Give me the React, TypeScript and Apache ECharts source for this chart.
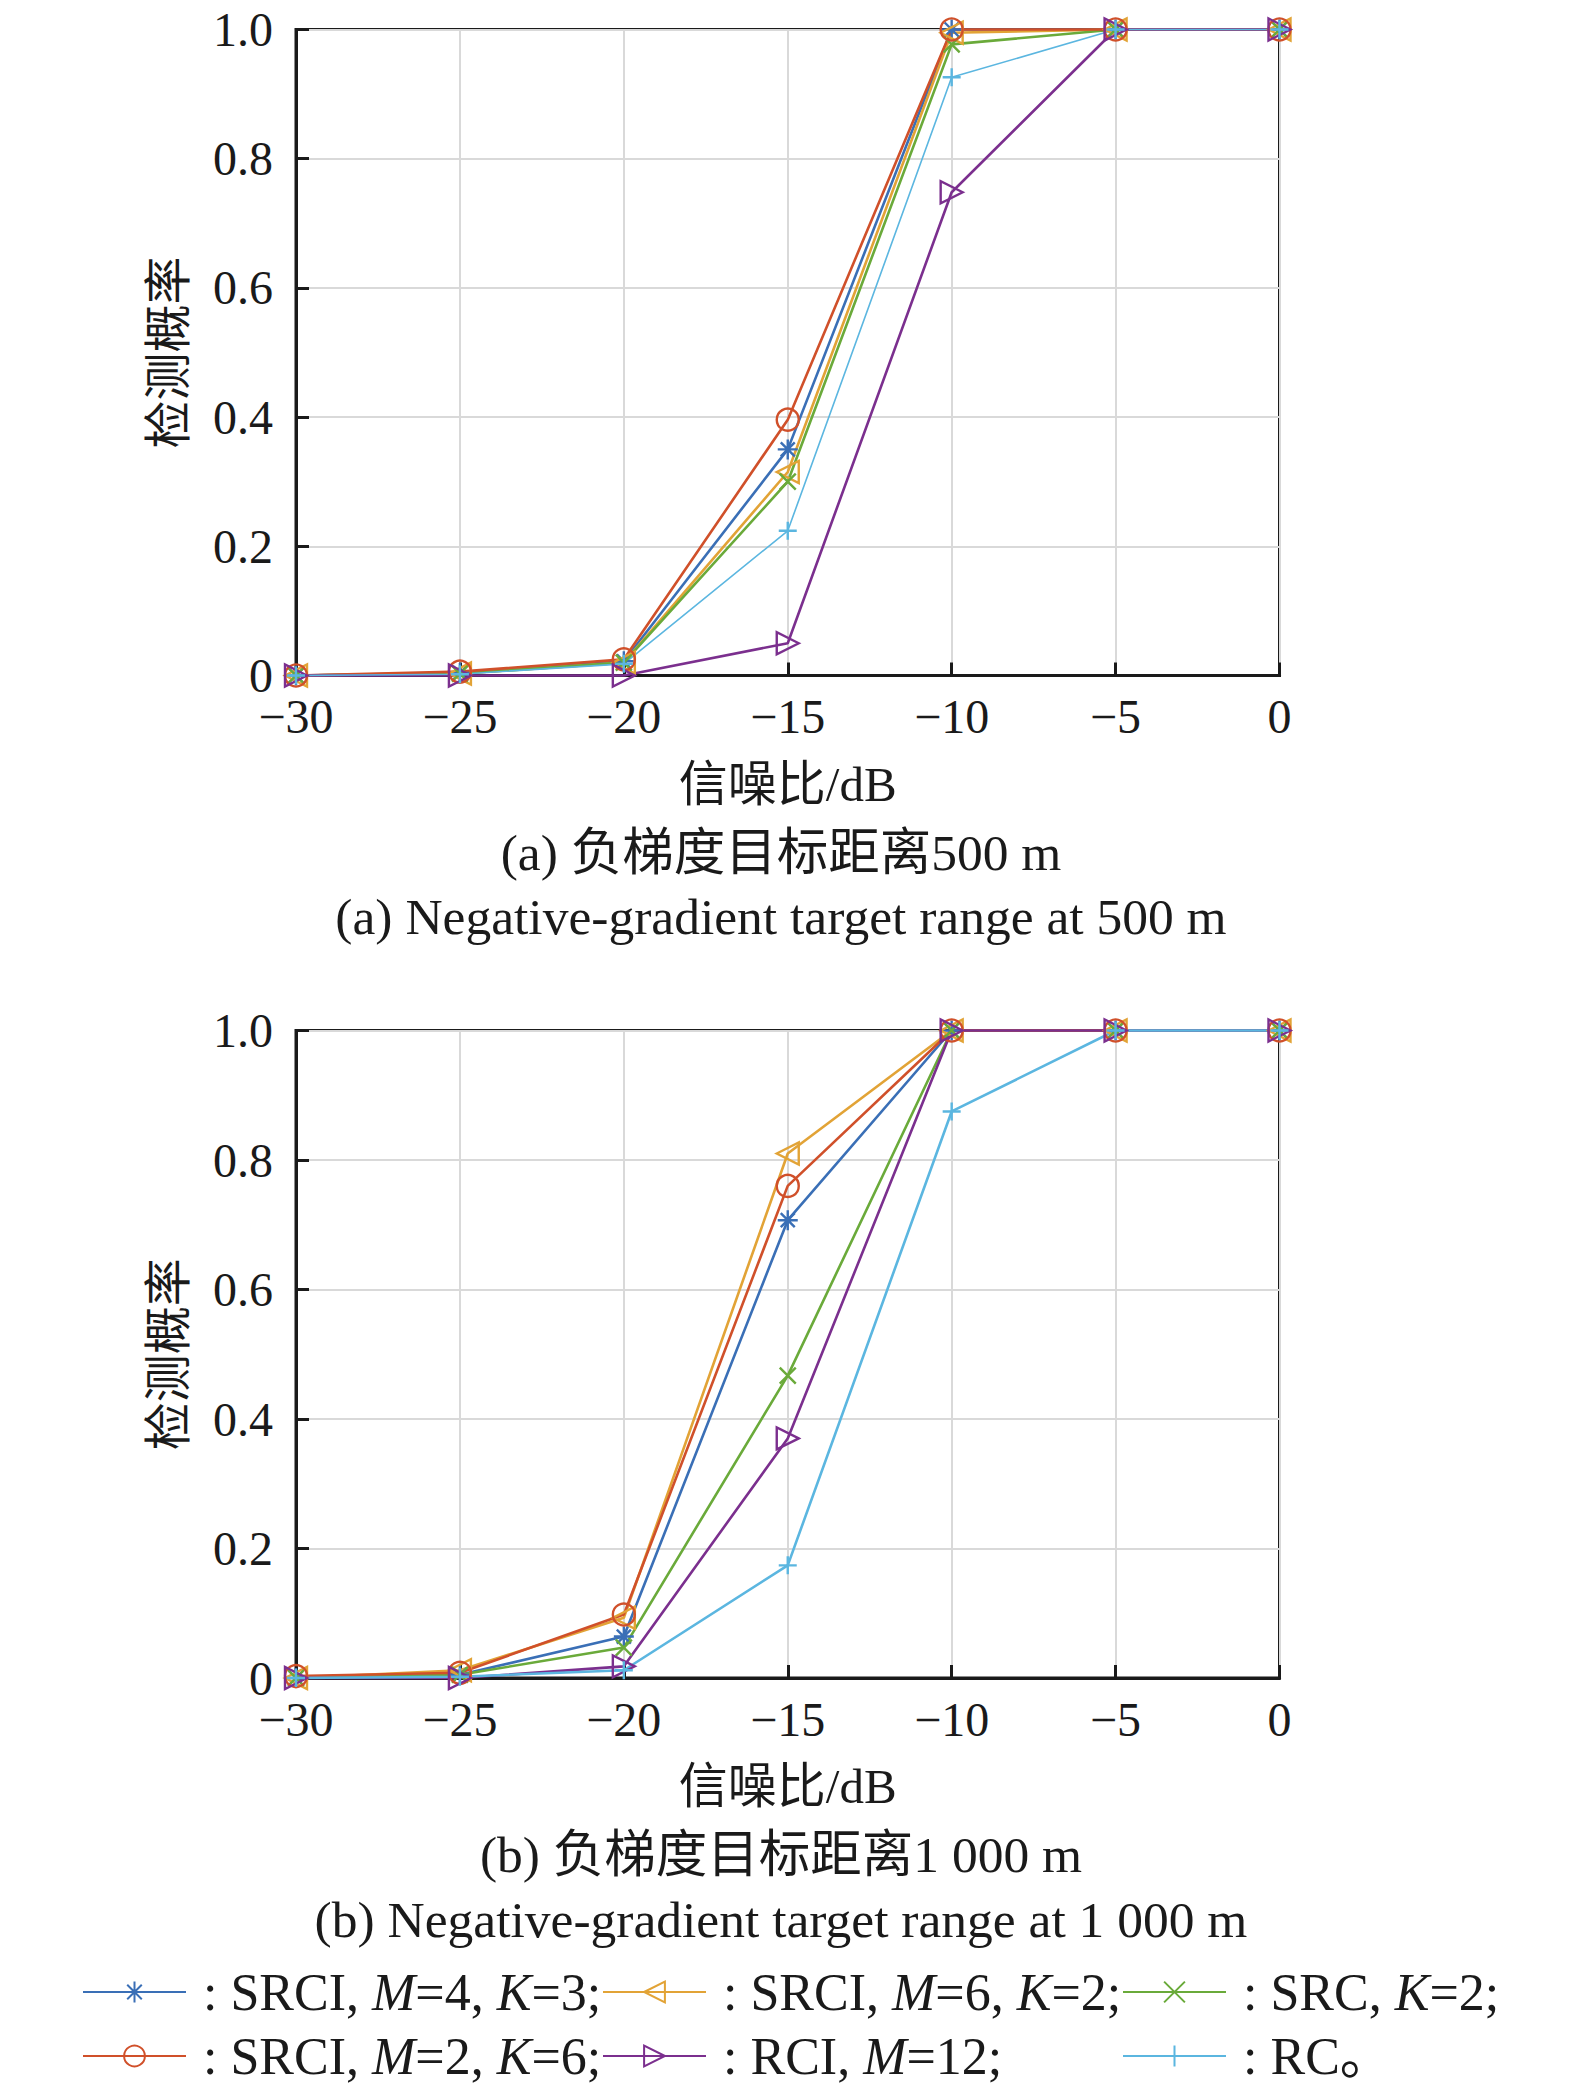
import React, { useEffect, useRef } from "react";
import * as echarts from "echarts";

// ---- data ----
const snr = [-30, -25, -20, -15, -10, -5, 0];
const xTickLabels = ["\u221230", "\u221225", "\u221220", "\u221215", "\u221210", "\u22125", "0"];
const yTickLabels = ["0", "0.2", "0.4", "0.6", "0.8", "1.0"];

const seriesNames = [
  "SRCI, M=4, K=3",
  "SRCI, M=6, K=2",
  "SRC, K=2",
  "SRCI, M=2, K=6",
  "RCI, M=12",
  "RC",
];
const legendTexts = [
  ": SRCI, {i|M}=4, {i|K}=3;",
  ": SRCI, {i|M}=6, {i|K}=2;",
  ": SRC, {i|K}=2;",
  ": SRCI, {i|M}=2, {i|K}=6;",
  ": RCI, {i|M}=12;",
  ": RC\u3002",
];

// (a) 500 m
const aSrciM4K3 = [0, 0.004, 0.022, 0.35, 1, 1, 1];
const aSrciM6K2 = [0, 0.003, 0.02, 0.315, 0.995, 1, 1];
const aSrcK2 = [0, 0.003, 0.02, 0.3, 0.977, 1, 1];
const aSrciM2K6 = [0, 0.006, 0.025, 0.396, 1, 1, 1];
const aRciM12 = [0, 0, 0, 0.05, 0.748, 1, 1];
const aRc = [0, 0.002, 0.018, 0.224, 0.926, 1, 1];

// (b) 1 000 m
const bSrciM4K3 = [0, 0.005, 0.064, 0.707, 1, 1, 1];
const bSrciM6K2 = [0, 0.012, 0.093, 0.81, 1, 1, 1];
const bSrcK2 = [0, 0.005, 0.047, 0.467, 1, 1, 1];
const bSrciM2K6 = [0.003, 0.008, 0.098, 0.76, 1, 1, 1];
const bRciM12 = [0, 0, 0.018, 0.37, 1, 1, 1];
const bRc = [0, 0.002, 0.012, 0.174, 0.875, 1, 1];

const chartA = [aSrciM4K3, aSrciM6K2, aSrcK2, aSrciM2K6, aRciM12, aRc];
const chartB = [bSrciM4K3, bSrciM6K2, bSrcK2, bSrciM2K6, bRciM12, bRc];

const captions = [
  "\u4fe1\u566a\u6bd4/dB",
  "(a) \u8d1f\u68af\u5ea6\u76ee\u6807\u8ddd\u79bb500 m",
  "(a) Negative-gradient target range at 500 m",
  "(b) \u8d1f\u68af\u5ea6\u76ee\u6807\u8ddd\u79bb1 000 m",
  "(b) Negative-gradient target range at 1 000 m",
];
const yName = "\u68c0\u6d4b\u6982\u7387";

// ---- styles ----
const FONT = "'Liberation Serif', 'Times New Roman', 'Noto Sans CJK SC', serif";
const INK = "#1a1a1a";
const STAR = "path://M0,5L10,5M5,0L5,10M1.5,1.5L8.5,8.5M1.5,8.5L8.5,1.5";
const CROSS = "path://M0,0L10,10M0,10L10,0";
const PLUS = "path://M0,5L10,5M5,0L5,10";
const TRI_LEFT = "path://M0,5L10,0L10,10Z";
const TRI_RIGHT = "path://M10,5L0,0L0,10Z";

const styles = [
  { color: "#3a6fb6", symbol: STAR, size: 20, width: 2.6 },
  { color: "#e2a336", symbol: TRI_LEFT, size: 22, width: 2.6 },
  { color: "#6aaa3a", symbol: CROSS, size: 16, width: 2.6 },
  { color: "#d0502a", symbol: "circle", size: 22, width: 2.6 },
  { color: "#7b2f8e", symbol: TRI_RIGHT, size: 22, width: 2.6 },
  { color: "#5bb6e0", symbol: PLUS, size: 18, width: 2.6 },
];

export default function App() {
  const ref = useRef<HTMLDivElement>(null);

  useEffect(() => {
    if (!ref.current) return;
    const chart = echarts.init(ref.current, undefined, { renderer: "svg" });

    const grids = [
      { left: 296, top: 29.5, width: 983.5, height: 646 },
      { left: 296, top: 1030.5, width: 983.5, height: 647.5 },
    ];

    const mkX = (gi: number) => ({
      type: "value",
      gridIndex: gi,
      min: -30,
      max: 0,
      interval: 5,
      name: captions[0],
      nameLocation: "middle",
      nameGap: 84,
      nameTextStyle: { fontSize: 49, fontFamily: FONT, color: INK },
      axisLine: { show: true, onZero: false, lineStyle: { color: INK, width: 3 } },
      axisTick: { show: true, inside: true, length: 13, lineStyle: { color: INK, width: 3 } },
      axisLabel: {
        fontSize: 48,
        fontFamily: FONT,
        color: INK,
        margin: 22,
        lineHeight: 38,
        formatter: (v: number) => xTickLabels[snr.indexOf(v)] ?? "",
      },
      splitLine: { show: true, lineStyle: { color: "#d9d9d9", width: 2 } },
    });
    const mkY = (gi: number) => ({
      type: "value",
      gridIndex: gi,
      min: 0,
      max: 1,
      interval: 0.2,
      name: yName,
      nameLocation: "middle",
      nameGap: 104,
      nameTextStyle: { fontSize: 48, fontFamily: FONT, color: INK },
      axisLine: { show: true, onZero: false, lineStyle: { color: INK, width: 3 } },
      axisTick: { show: true, inside: true, length: 13, lineStyle: { color: INK, width: 3 } },
      axisLabel: {
        fontSize: 48,
        fontFamily: FONT,
        color: INK,
        margin: 23,
        lineHeight: 36,
        formatter: (v: number) => yTickLabels[Math.round(v / 0.2)] ?? "",
      },
      splitLine: { show: true, lineStyle: { color: "#d9d9d9", width: 2 } },
    });

    const series: any[] = [];
    [chartA, chartB].forEach((sets, gi) => {
      sets.forEach((vals, si) => {
        const st = styles[si];
        const thin = gi === 0 && si === 5;
        series.push({
          type: "line",
          name: seriesNames[si],
          xAxisIndex: gi,
          yAxisIndex: gi,
          data: snr.map((x, k) => [x, vals[k]]),
          symbol: st.symbol,
          symbolSize: st.size,
          showAllSymbol: true,
          clip: false,
          color: st.color,
          lineStyle: { color: st.color, width: thin ? 1.6 : st.width },
          itemStyle: {
            color: "rgba(0,0,0,0)",
            borderColor: st.color,
            borderWidth: 2.4,
          },
          emphasis: { disabled: true },
          z: 3,
        });
      });
    });

    const legendLeft = [82, 602, 1122];
    const legendTop = [1966, 2030];
    const legends = seriesNames.map((name, i) => ({
      data: [name],
      left: legendLeft[i % 3],
      top: legendTop[Math.floor(i / 3)],
      orient: "horizontal",
      padding: 0,
      itemGap: 0,
      itemWidth: 103,
      itemHeight: 26,
      selectedMode: false,
      formatter: () => legendTexts[i],
      textStyle: {
        fontSize: 52,
        fontFamily: FONT,
        color: INK,
        padding: [0, 0, 0, 12],
        rich: {
          i: { fontSize: 52, fontFamily: FONT, fontStyle: "italic", color: INK },
        },
      },
    }));

    const capY = [852, 916, 1854, 1919];
    const graphic = captions.slice(1).map((t, i) => ({
      type: "text",
      x: 781,
      y: capY[i],
      style: {
        text: t,
        fontSize: 51.5,
        fontFamily: FONT,
        fill: INK,
        align: "center",
        verticalAlign: "middle",
      },
      silent: true,
    }));

    chart.setOption({
      animation: false,
      backgroundColor: "#ffffff",
      grid: grids.map((g) => ({
        ...g,
        show: true,
        borderColor: INK,
        borderWidth: 3,
        backgroundColor: "transparent",
      })),
      xAxis: [mkX(0), mkX(1)],
      yAxis: [mkY(0), mkY(1)],
      legend: legends,
      series,
      graphic,
    });

    return () => chart.dispose();
  }, []);

  return (
    <div
      ref={ref}
      style={{ position: "absolute", left: 0, top: 0, width: 1575, height: 2089 }}
    />
  );
}
